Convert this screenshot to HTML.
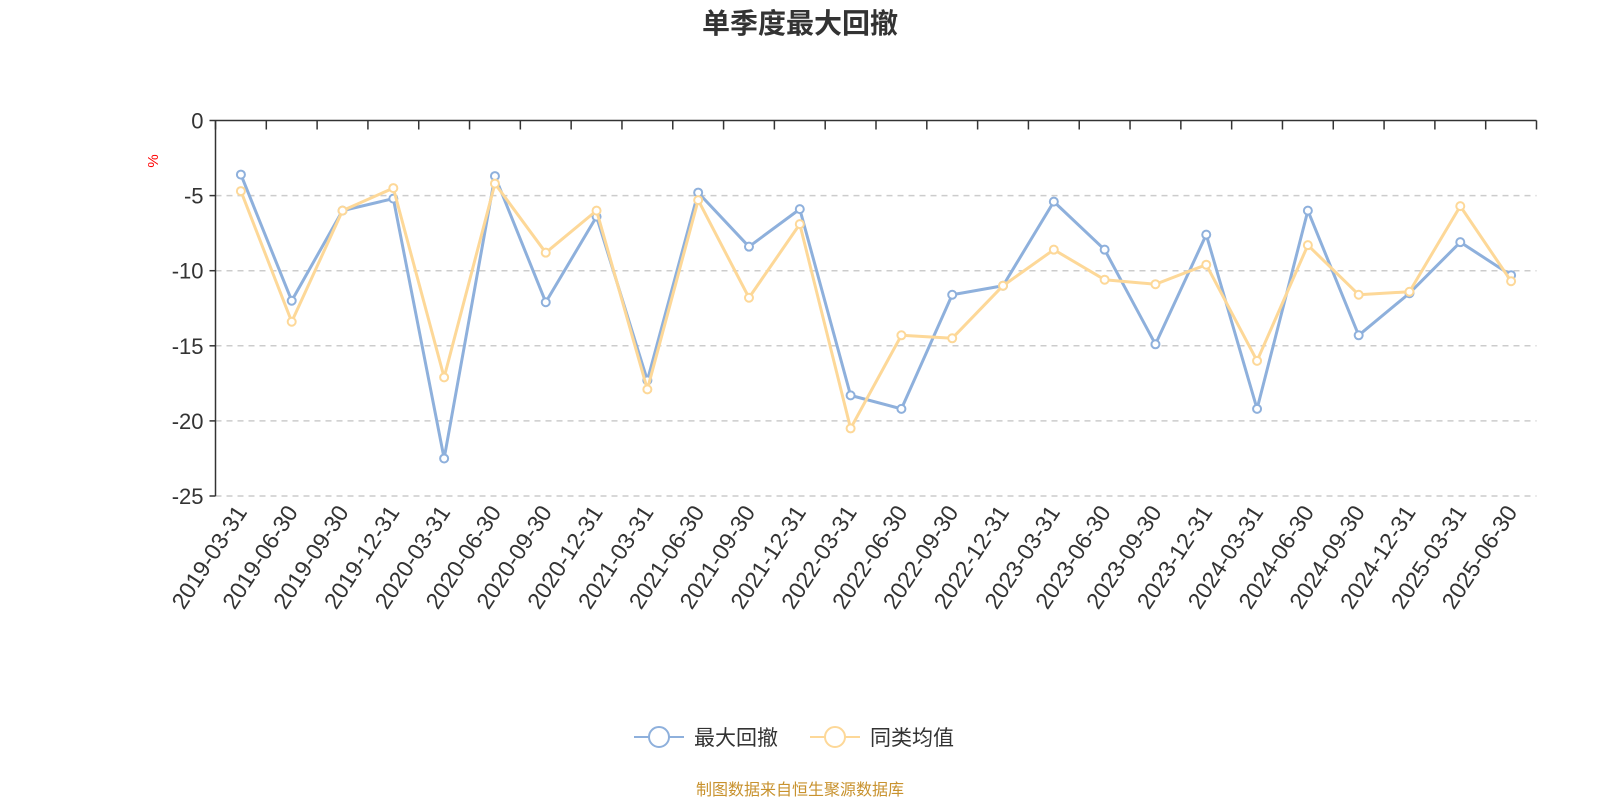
<!DOCTYPE html>
<html><head><meta charset="utf-8"><style>
body{margin:0;background:#fff;}
svg text{font-family:"Liberation Sans","Noto Sans CJK SC",sans-serif;}
</style></head><body>
<svg id="chart" width="1600" height="800" xmlns="http://www.w3.org/2000/svg">
<text x="800" y="33" text-anchor="middle" font-size="28" font-weight="bold" fill="#333">单季度最大回撤</text>
<text x="0" y="0" transform="translate(158,161) rotate(-90)" text-anchor="middle" font-size="15" fill="#f00">%</text>
<g id="grid"></g><g id="axes"></g><g id="series"></g>
<g>
 <g>
  <line x1="634" y1="737" x2="684" y2="737" stroke="#8eb0dc" stroke-width="2"/>
  <circle cx="659" cy="737" r="10" fill="#fff" stroke="#8eb0dc" stroke-width="2"/>
  <text x="694" y="745" font-size="21" fill="#333">最大回撤</text>
 </g>
 <g>
  <line x1="810" y1="737" x2="860" y2="737" stroke="#fdd898" stroke-width="2"/>
  <circle cx="835" cy="737" r="10" fill="#fff" stroke="#fdd898" stroke-width="2"/>
  <text x="870" y="745" font-size="21" fill="#333">同类均值</text>
 </g>
</g>
<text x="800" y="795" text-anchor="middle" font-size="16" fill="#c8922e">制图数据来自恒生聚源数据库</text>
</svg>
<script>
const categories=["2019-03-31","2019-06-30","2019-09-30","2019-12-31","2020-03-31","2020-06-30","2020-09-30","2020-12-31","2021-03-31","2021-06-30","2021-09-30","2021-12-31","2022-03-31","2022-06-30","2022-09-30","2022-12-31","2023-03-31","2023-06-30","2023-09-30","2023-12-31","2024-03-31","2024-06-30","2024-09-30","2024-12-31","2025-03-31","2025-06-30"];
const maxDrawdown=[-3.6,-12.0,-6.0,-5.2,-22.5,-3.7,-12.1,-6.4,-17.3,-4.8,-8.4,-5.9,-18.3,-19.2,-11.6,-11.0,-5.4,-8.6,-14.9,-7.6,-19.2,-6.0,-14.3,-11.5,-8.1,-10.3];
const peerAverage=[-4.7,-13.4,-6.0,-4.5,-17.1,-4.2,-8.8,-6.0,-17.9,-5.3,-11.8,-6.9,-20.5,-14.3,-14.5,-11.0,-8.6,-10.6,-10.9,-9.6,-16.0,-8.3,-11.6,-11.4,-5.7,-10.7];
const yTicks=[0,-5,-10,-15,-20,-25];
const L=215.5,R=1536.5,T=120.5,B=496;
const yMin=-25,yMax=0;
const band=(R-L)/categories.length;
const xS=i=>L+band*(i+0.5);
const yS=v=>T+(yMax-v)/(yMax-yMin)*(B-T);
const NS="http://www.w3.org/2000/svg";
function mk(tag,attrs,parent){const e=document.createElementNS(NS,tag);for(const k in attrs)e.setAttribute(k,attrs[k]);parent.appendChild(e);return e;}
const grid=document.getElementById('grid'),axes=document.getElementById('axes'),series=document.getElementById('series');
yTicks.forEach(t=>{
 const y=yS(t);
 if(t!==0){const g=mk('line',{x1:L,x2:R,y1:y,y2:y,stroke:'#ccc','stroke-width':1.5,'stroke-dasharray':'6,5'},grid);
 
 }
 const tk=mk('line',{x1:L-6,x2:L,y1:y,y2:y,stroke:'#333','stroke-width':1.5},axes);
 
 
 const lb=mk('text',{x:L-12,y:y+8,'text-anchor':'end','font-size':22,fill:'#333'},axes);
 lb.textContent=t;
 
 
});
const ya=mk('line',{x1:L,x2:L,y1:T,y2:B,stroke:'#333','stroke-width':1.5},axes);


const xa=mk('line',{x1:L,x2:R,y1:T,y2:T,stroke:'#333','stroke-width':1.5},axes);


for(let i=0;i<=categories.length;i++){
 const x=L+band*i;
 const tk=mk('line',{x1:x,x2:x,y1:T,y2:T+9,stroke:'#333','stroke-width':1.5},axes);
 
 
}
categories.forEach((c,i)=>{
 const x=xS(i)+7,y=B+16;
 const lb=mk('text',{x:0,y:0,transform:`translate(${x},${y}) rotate(-57)`,'text-anchor':'end','font-size':23,fill:'#333'},axes);
 lb.textContent=c;
 
 
});
function drawSeries(vals,color,name){
 const pts=vals.map((v,i)=>xS(i)+','+yS(v)).join(' ');
 const pl=mk('polyline',{points:pts,fill:'none',stroke:color,'stroke-width':3,'stroke-linejoin':'round'},series);
 
 
 vals.forEach((v,i)=>{
  const c=mk('circle',{cx:xS(i),cy:yS(v),r:4,fill:'#fff',stroke:color,'stroke-width':2},series);
  
  
 });
}
drawSeries(maxDrawdown,'#8eb0dc','max-drawdown');
drawSeries(peerAverage,'#fdd898','peer-average');
</script>
</body></html>
